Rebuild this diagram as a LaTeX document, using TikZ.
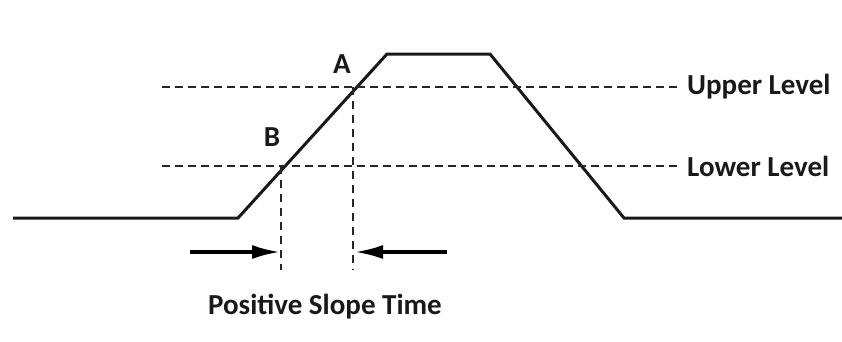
\documentclass[tikz,border=0pt]{standalone}
\usepackage{fontspec}
\setmainfont{Carlito}
\usetikzlibrary{arrows.meta}
\begin{document}
\begin{tikzpicture}[x=1pt,y=-1pt,
  wave/.style={line width=3pt,line join=miter,black!90},
  level/.style={line width=2pt,black!85,dash pattern=on 8pt off 5pt,shorten >=6pt},
  guide/.style={line width=2pt,black!85,dash pattern=on 8pt off 6pt},
  marker/.style={line width=3.2pt,black,-{Latex[length=28pt,width=14pt]}},
  lbl/.style={font=\fontsize{29}{32}\selectfont\bfseries,text=black!90,inner sep=0pt}]
\useasboundingbox (0,0) rectangle (842,341);
% waveform
\coordinate (s0) at (13,218);
\coordinate (s1) at (238,218);
\coordinate (s2) at (387,54);
\coordinate (s3) at (490,54);
\coordinate (s4) at (624,218);
\coordinate (s5) at (842,218);
\draw[wave] (s0) -- (s1) -- (s2) -- (s3) -- (s4) -- (s5);
% levels
\node[lbl,anchor=west] (up) at (687,87) {Upper Level};
\node[lbl,anchor=west] (lo) at (687,166) {Lower Level};
\coordinate (u0) at (162,87);
\coordinate (l0) at (162,166);
\draw[level] (u0) -- (up.west);
\draw[level] (l0) -- (lo.west);
% guides
\coordinate (ga0) at (353,87);
\coordinate (ga1) at (353,270);
\coordinate (gb0) at (281,166);
\coordinate (gb1) at (281,270);
\draw[guide] (ga0) -- (ga1);
\draw[guide] (gb0) -- (gb1);
% arrows
\coordinate (al0) at (190,252);
\coordinate (al1) at (280,252);
\coordinate (ar0) at (447,252);
\coordinate (ar1) at (355,252);
\draw[marker] (al0) -- (al1);
\draw[marker] (ar0) -- (ar1);
% labels
\node[lbl] (A) at (342,64) {A};
\node[lbl] (B) at (272,137) {B};
\node[lbl] (pst) at (325,307) {Positive Slope Time};
\end{tikzpicture}
\end{document}
